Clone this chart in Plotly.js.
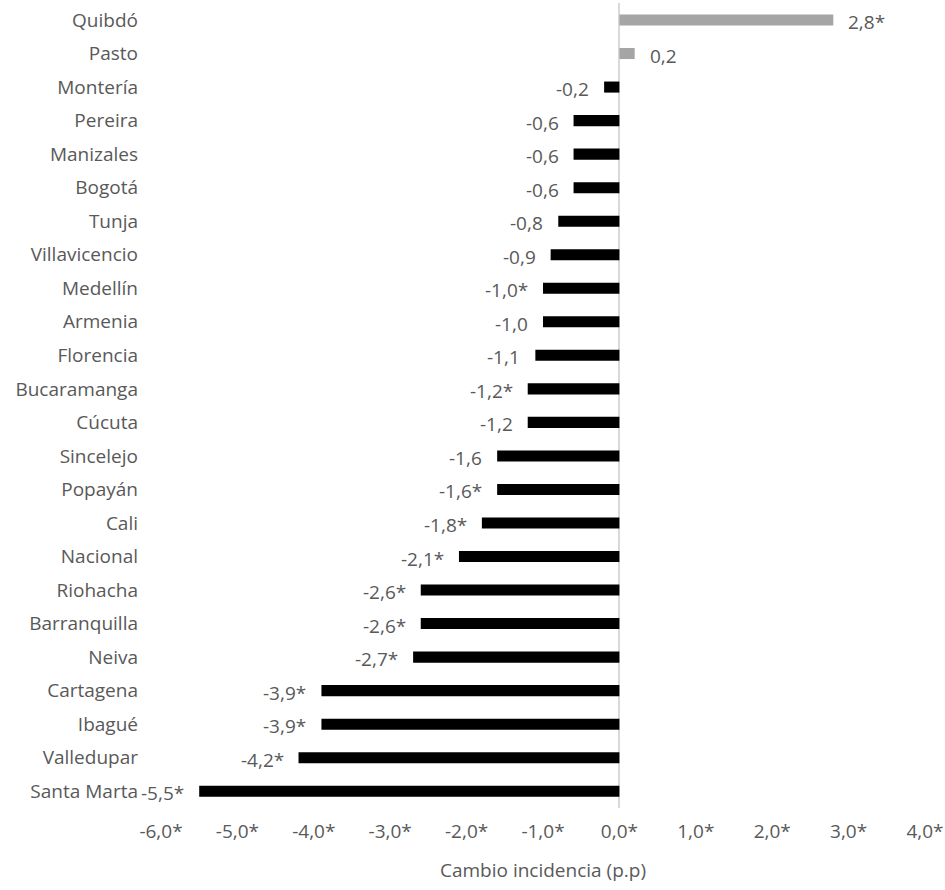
<!DOCTYPE html>
<html>
<head>
<meta charset="utf-8">
<script src="https://cdn.plot.ly/plotly-3.0.1.min.js"></script>
<style>html,body{margin:0;padding:0;background:#fff}#chart{width:945px;height:890px}</style>
</head>
<body>
<div id="chart"></div>
<script>
const cities = ["Quibdó","Pasto","Montería","Pereira","Manizales","Bogotá","Tunja","Villavicencio","Medellín","Armenia","Florencia","Bucaramanga","Cúcuta","Sincelejo","Popayán","Cali","Nacional","Riohacha","Barranquilla","Neiva","Cartagena","Ibagué","Valledupar","Santa Marta"];
const change = [2.8,0.2,-0.2,-0.6,-0.6,-0.6,-0.8,-0.9,-1.0,-1.0,-1.1,-1.2,-1.2,-1.6,-1.6,-1.8,-2.1,-2.6,-2.6,-2.7,-3.9,-3.9,-4.2,-5.5];
const significant = [true,false,false,false,false,false,false,false,true,false,false,true,false,false,true,true,true,true,true,true,true,true,true,true];
const xTickVals = [-6,-5,-4,-3,-2,-1,0,1,2,3,4];
const xTickText = ["-6,0*","-5,0*","-4,0*","-3,0*","-2,0*","-1,0*","0,0*","1,0*","2,0*","3,0*","4,0*"];

const fmt = v => v.toFixed(1).replace('.', ',');
const labels = change.map((v,i) => fmt(v) + (significant[i] ? '*' : ''));
const colors = change.map(v => v >= 0 ? '#A5A5A5' : '#000000');

const textColor = '#595959';
const fontFam = '"Open Sans", "Noto Sans", sans-serif';

const trace = {
  type: 'bar',
  orientation: 'h',
  y: cities,
  x: change,
  width: 0.33,
  marker: {color: colors},
  hoverinfo: 'none'
};

const annotations = change.map((v,i) => ({
  x: v, y: cities[i], xref: 'x', yref: 'y',
  text: labels[i], showarrow: false,
  xanchor: v >= 0 ? 'left' : 'right',
  yanchor: 'middle',
  xshift: v >= 0 ? 13 : -13,
  yshift: -2,
  font: {family: fontFam, size: 19, color: textColor}
}));

const layout = {
  width: 945, height: 890,
  margin: {l: 161, r: 20, t: 3, b: 82},
  paper_bgcolor: '#ffffff', plot_bgcolor: '#ffffff',
  showlegend: false,
  font: {family: fontFam, size: 19, color: textColor},
  xaxis: {
    range: [-6, 4],
    tickvals: xTickVals, ticktext: xTickText,
    showgrid: false, showline: false, ticks: '',
    zeroline: true, zerolinecolor: '#D9D9D9', zerolinewidth: 2,
    ticklabelstandoff: 10,
    tickfont: {family: fontFam, size: 19, color: textColor},
    title: {text: 'Cambio incidencia (p.p)', standoff: 20, font: {family: fontFam, size: 19, color: textColor}},
    fixedrange: true
  },
  yaxis: {
    type: 'category',
    categoryorder: 'array', categoryarray: cities,
    autorange: 'reversed',
    showgrid: false, showline: false, zeroline: false, ticks: '',
    ticklabelstandoff: 22,
    tickfont: {family: fontFam, size: 19, color: textColor},
    fixedrange: true
  },
  annotations: annotations
};

Plotly.newPlot('chart', [trace], layout, {displayModeBar: false, staticPlot: true});
</script>
</body>
</html>
